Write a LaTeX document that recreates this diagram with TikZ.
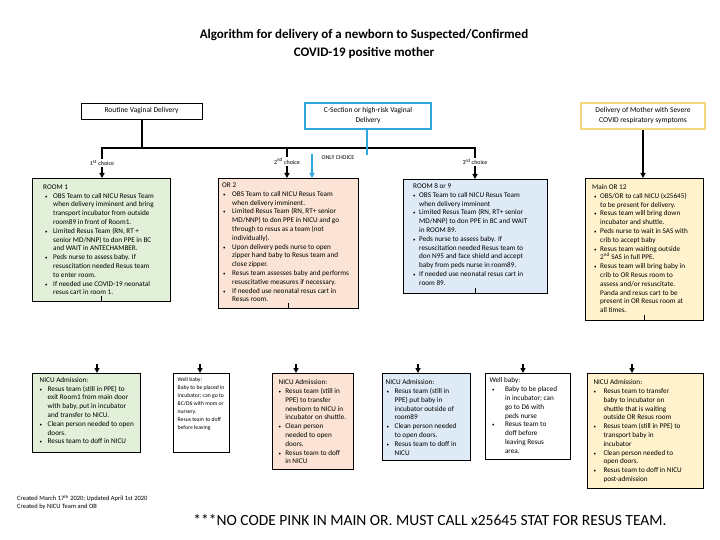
\documentclass[tikz,border=0pt]{standalone}
\usepackage{fontspec}
\setmainfont{Carlito}
\usetikzlibrary{arrows.meta}
\definecolor{gfill}{HTML}{E2EFD9}
\definecolor{pfill}{HTML}{FBE4D5}
\definecolor{bfill}{HTML}{DEEAF6}
\definecolor{yfill}{HTML}{FFF2CC}
\definecolor{cblue}{HTML}{2BA6DE}
\definecolor{ybord}{HTML}{F7D77E}
\newcommand\setbul[2]{\gdef\bulA{#1}\gdef\bulB{#2}}
\setbul{2pt}{8pt}
\newcommand\bu{\hspace*{\bulA}\makebox[\bulB][l]{{\fontsize{5}{5}\selectfont •}}}
\newcommand\ct{\hspace*{\bulA}\hspace*{\bulB}}
\begin{document}
\begin{tikzpicture}[x=1pt,y=-1pt,
  every node/.style={inner sep=0pt},
  box/.style={draw=black, line width=1.1pt, anchor=north west},
  txt/.style={anchor=north west, align=left, font=\fontsize{7.2}{8.8}\selectfont},
  topbox/.style={align=center, font=\fontsize{7.5}{10}\selectfont},
  conn/.style={line width=1.6pt},
  arr/.style={line width=1.6pt, -{Triangle[length=5pt,width=5pt]}},
  choice/.style={font=\fontsize{6}{7}\selectfont, fill=white, inner sep=1pt}
]
\useasboundingbox (0,0) rectangle (720,540);

% title
\node[font=\bfseries\fontsize{13}{18}\selectfont, align=center] (title) at (364,44)
  {Algorithm for delivery of a newborn to Suspected/Confirmed\\COVID-19 positive mother};

% top boxes
\node[topbox, draw=black, line width=0.8pt, minimum width=121pt, minimum height=16pt] (rv) at (141.5,111) {Routine Vaginal Delivery};
\node[topbox, draw=cblue, line width=2.6pt, minimum width=126pt, minimum height=26pt] (cs) at (368,116) {C-Section or high-risk Vaginal\\Delivery};
\node[topbox, draw=ybord, line width=2.6pt, minimum width=124pt, minimum height=26pt] (sv) at (643,116) {Delivery of Mother with Severe\\COVID respiratory symptoms};

% room boxes
\node[box, fill=gfill, minimum width=138pt, minimum height=123pt] (r1) at (32,178) {};
\node[box, fill=pfill, minimum width=140pt, minimum height=130pt] (r2) at (218,178) {};
\node[box, fill=bfill, minimum width=144pt, minimum height=114pt] (r3) at (403,179) {};
\node[box, fill=yfill, minimum width=118pt, minimum height=142pt] (r4) at (585,178) {};

\setbul{2pt}{8pt}
\node[txt] (r1t) at ([shift={(11,6.5)}]r1.north west) {ROOM 1\\
\bu OBS Team to call NICU Resus Team\\
\ct when delivery imminent and bring\\
\ct transport incubator from outside\\
\ct room89 in front of Room1.\\
\bu Limited Resus Team (RN, RT +\\
\ct senior MD/NNP) to don PPE in BC\\
\ct and WAIT in ANTECHAMBER.\\
\bu Peds nurse to assess baby. If\\
\ct resuscitation needed Resus team\\
\ct to enter room.\\
\bu If needed use COVID-19 neonatal\\
\ct resus cart in room 1.};

\setbul{1pt}{9pt}
\node[txt] (r2t) at ([shift={(4,4.7)}]r2.north west) {OR 2\\
\bu OBS Team to call NICU Resus Team\\
\ct when delivery imminent.\\
\bu Limited Resus Team (RN, RT+ senior\\
\ct MD/NNP) to don PPE in NICU and go\\
\ct through to resus as a team (not\\
\ct individually).\\
\bu Upon delivery peds nurse to open\\
\ct zipper hand baby to Resus team and\\
\ct close zipper.\\
\bu Resus team assesses baby and performs\\
\ct resuscitative measures if necessary.\\
\bu If needed use neonatal resus cart in\\
\ct Resus room.};

\setbul{0pt}{6pt}
\node[txt] (r3t) at ([shift={(10,4.4)}]r3.north west) {ROOM 8 or 9\\
\bu OBS Team to call NICU Resus Team\\
\ct when delivery imminent\\
\bu Limited Resus Team (RN, RT+ senior\\
\ct MD/NNP) to don PPE in BC and WAIT\\
\ct in ROOM 89.\\
\bu Peds nurse to assess baby. If\\
\ct resuscitation needed Resus team to\\
\ct don N95 and face shield and accept\\
\ct baby from peds nurse in room89.\\
\bu If needed use neonatal resus cart in\\
\ct room 89.};

\setbul{2pt}{6pt}
\node[txt] (r4t) at ([shift={(7,6.4)}]r4.north west) {Main OR 12\\
\bu OBS/OR to call NICU (x25645)\\
\ct to be present for delivery.\\
\bu Resus team will bring down\\
\ct incubator and shuttle.\\
\bu Peds nurse to wait in SAS with\\
\ct crib to accept baby\\
\bu Resus team waiting outside\\
\ct 2\textsuperscript{nd} SAS in full PPE.\\
\bu Resus team will bring baby in\\
\ct crib to OR Resus room to\\
\ct assess and/or resuscitate.\\
\ct Panda and resus cart to be\\
\ct present in OR Resus room at\\
\ct all times.};

% bottom boxes
\node[box, fill=gfill, minimum width=108pt, minimum height=79pt] (n1) at (32,373) {};
\node[box, fill=white, minimum width=56pt, minimum height=79pt] (w1) at (173,373) {};
\node[box, fill=pfill, minimum width=81pt, minimum height=96pt] (n2) at (272,373) {};
\node[box, fill=bfill, minimum width=88pt, minimum height=87pt] (n3) at (382,373) {};
\node[box, fill=white, minimum width=85pt, minimum height=86pt] (w2) at (485,373) {};
\node[box, fill=yfill, minimum width=116pt, minimum height=115pt] (n4) at (587,373) {};

\setbul{0pt}{8pt}
\node[txt] (n1t) at ([shift={(7.5,4)}]n1.north west) {NICU Admission:\\
\bu Resus team (still in PPE) to\\
\ct exit Room1 from main door\\
\ct with baby, put in incubator\\
\ct and transfer to NICU.\\
\bu Clean person needed to open\\
\ct doors.\\
\bu Resus team to doff in NICU};

\node[txt, font=\fontsize{5.7}{8}\selectfont] (w1t) at ([shift={(4.5,4)}]w1.north west) {Well baby:\\
Baby to be placed in\\
incubator; can go to\\
BC/D6 with mom or\\
nursery.\\
Resus team to doff\\
before leaving};

\setbul{0pt}{6.7pt}
\node[txt] (n2t) at ([shift={(6.5,6.4)}]n2.north west) {NICU Admission:\\
\bu Resus team (still in\\
\ct PPE) to transfer\\
\ct newborn to NICU in\\
\ct incubator on shuttle.\\
\bu Clean person\\
\ct needed to open\\
\ct doors.\\
\bu Resus team to doff\\
\ct in NICU};

\setbul{1pt}{8pt}
\node[txt] (n3t) at ([shift={(3.5,6.4)}]n3.north west) {NICU Admission:\\
\bu Resus team (still in\\
\ct PPE) put baby in\\
\ct incubator outside of\\
\ct room89\\
\bu Clean person needed\\
\ct to open doors.\\
\bu Resus team to doff in\\
\ct NICU};

\setbul{2.5pt}{13pt}
\node[txt] (w2t) at ([shift={(4.3,4.7)}]w2.north west) {Well baby:\\
\bu Baby to be placed\\
\ct in incubator; can\\
\ct go to D6 with\\
\ct peds nurse\\
\bu Resus team to\\
\ct doff before\\
\ct leaving Resus\\
\ct area.};

\setbul{0pt}{10pt}
\node[txt] (n4t) at ([shift={(6.3,6.4)}]n4.north west) {NICU Admission:\\
\bu Resus team to transfer\\
\ct baby to incubator on\\
\ct shuttle that is waiting\\
\ct outside OR Resus room\\
\bu Resus team (still in PPE) to\\
\ct transport baby in\\
\ct incubator\\
\bu Clean person needed to\\
\ct open doors.\\
\bu Resus team to doff in NICU\\
\ct post-admission};

% top connectors
\coordinate (h1) at (102,148);
\coordinate (h2) at (287,148);
\coordinate (h3) at (475,148);
\draw[line width=2pt] (rv.south) -- (rv.south |- h1);
\draw[line width=2.4pt] ([xshift=-1pt]h1) -- ([xshift=1pt]h3);
\draw[arr] (h1) -- (h1 |- r1.north) node[choice, pos=0.5] {1\textsuperscript{st} choice};
\draw[arr] (h2) -- (h2 |- r2.north) node[choice, pos=0.45] {2\textsuperscript{nd} choice};
\draw[arr] (h3) -- (h3 |- r3.north) node[choice, pos=0.45] {3\textsuperscript{rd} choice};
\coordinate (b1) at (367,155);
\coordinate (b2) at (312,154);
\draw[cblue, line width=2.2pt] (cs.south -| b1) -- (b1);
\draw[cblue, line width=2pt, -{Triangle[length=5pt,width=5pt]}] (b2) -- (b2 |- r2.north);
\node[font=\fontsize{6}{7}\selectfont] (oc) at (338,158) {ONLY CHOICE};
\draw[arr] (sv.south) -- (sv.south |- r4.north);

% lower connector stubs (as visible in the reference)
\coordinate (s1) at ([yshift=6pt]r1.south);
\coordinate (s2) at ([yshift=6pt]r2.south);
\coordinate (s3) at ([yshift=6pt]r3.south);
\coordinate (s4) at ([yshift=6pt]r4.south);
\draw[conn] (r1.south) -- (s1);
\draw[conn] (r2.south) -- (s2);
\draw[conn] (r3.south) -- (s3);
\draw[conn] (r4.south) -- (s4);
\coordinate (t1) at (97,364);
\coordinate (t2) at (200,364);
\coordinate (t3) at (296,364);
\coordinate (t4) at (418,364);
\coordinate (t5) at (523,364);
\coordinate (t6) at (632,364);
\draw[arr] (t1) -- (t1 |- n1.north);
\draw[arr] (t2) -- (t2 |- w1.north);
\draw[arr] (t3) -- (t3 |- n2.north);
\draw[arr] (t4) -- (t4 |- n3.north);
\draw[arr] (t5) -- (t5 |- w2.north);
\draw[arr] (t6) -- (t6 |- n4.north);

% footer
\node[anchor=west, align=left, font=\fontsize{6.5}{7.5}\selectfont] (cr) at (17,502)
  {Created March 17\textsuperscript{th} 2020; Updated April 1st 2020\\Created by NICU Team and OB};
\node[font=\fontsize{15.5}{18}\selectfont] (nc) at (430,520) {***NO CODE PINK IN MAIN OR. MUST CALL x25645 STAT FOR RESUS TEAM.};
\end{tikzpicture}
\end{document}
